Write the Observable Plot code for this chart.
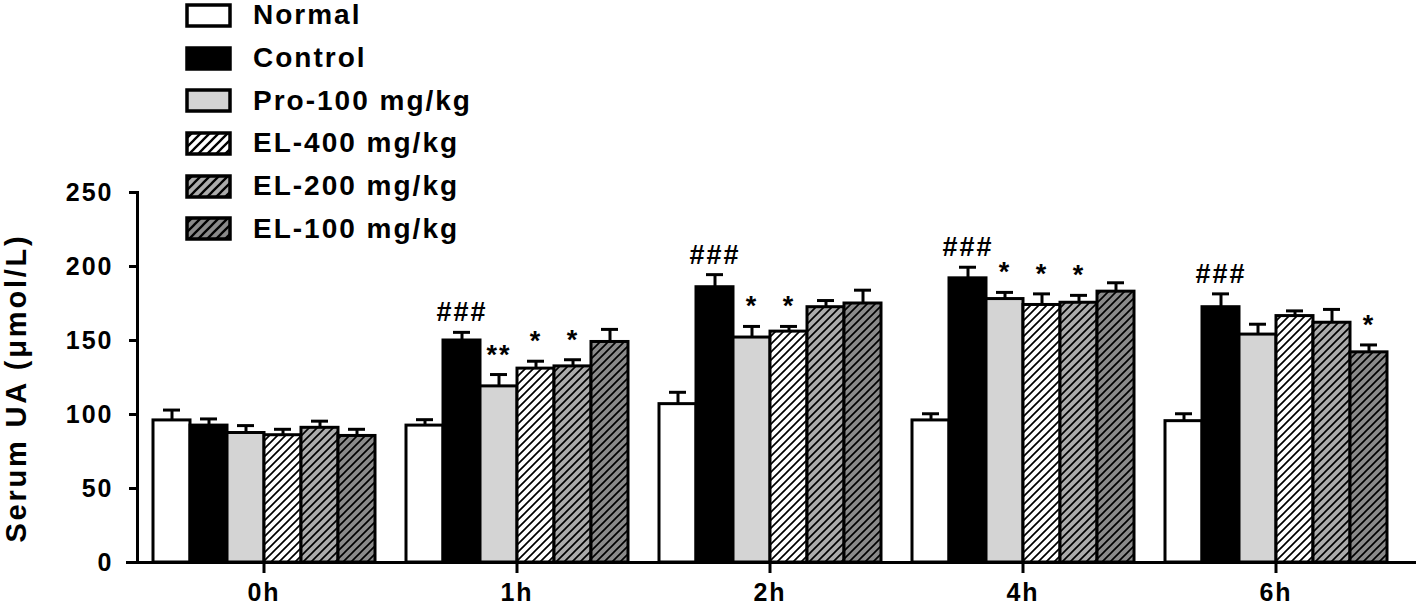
<!DOCTYPE html>
<html>
<head>
<meta charset="utf-8">
<script src="https://cdn.jsdelivr.net/npm/d3@7"></script>
<script src="https://cdn.jsdelivr.net/npm/@observablehq/plot@0.6"></script>
<style>
  body { margin: 0; background: #fff; }
  #wrap { position: relative; width: 1417px; height: 608px; overflow: hidden;
          font-family: "Liberation Sans", Arial, sans-serif; }
  #legend { position: absolute; left: 185px; top: -6px; }
  .row { display: flex; align-items: center; height: 42.7px; }
  .row svg { display: block; }
  .row span { margin-left: 21px; font-size: 28px; font-weight: bold; letter-spacing: 2px;
              color: #000; white-space: nowrap; line-height: 1; }
  #ylabel { position: absolute; left: 16px; top: 388px; transform: translate(-50%, -50%) rotate(-90deg);
            font-size: 29px; font-weight: bold; letter-spacing: 2.8px; white-space: nowrap; color: #000;
            line-height: 1; }
</style>
</head>
<body>
<svg width="0" height="0" style="position:absolute">
  <defs>
    <pattern id="h400" width="8" height="8" patternUnits="userSpaceOnUse">
      <rect width="8" height="8" fill="#ffffff"/>
      <path d="M-2,2L2,-2M0,8L8,0M6,10L10,6" stroke="#000" stroke-width="1.7"/>
    </pattern>
    <pattern id="h200" width="8" height="8" patternUnits="userSpaceOnUse">
      <rect width="8" height="8" fill="#ababab"/>
      <path d="M-2,2L2,-2M0,8L8,0M6,10L10,6" stroke="#000" stroke-width="1.7"/>
    </pattern>
    <pattern id="h100" width="8" height="8" patternUnits="userSpaceOnUse">
      <rect width="8" height="8" fill="#8a8a8a"/>
      <path d="M-2,2L2,-2M0,8L8,0M6,10L10,6" stroke="#000" stroke-width="1.7"/>
    </pattern>
    <pattern id="l400" width="9" height="9" patternUnits="userSpaceOnUse">
      <rect width="9" height="9" fill="#ffffff"/>
      <path d="M-2,2L2,-2M0,9L9,0M7,11L11,7" stroke="#000" stroke-width="2.3"/>
    </pattern>
    <pattern id="l200" width="9" height="9" patternUnits="userSpaceOnUse">
      <rect width="9" height="9" fill="#ababab"/>
      <path d="M-2,2L2,-2M0,9L9,0M7,11L11,7" stroke="#000" stroke-width="2.3"/>
    </pattern>
    <pattern id="l100" width="9" height="9" patternUnits="userSpaceOnUse">
      <rect width="9" height="9" fill="#8a8a8a"/>
      <path d="M-2,2L2,-2M0,9L9,0M7,11L11,7" stroke="#000" stroke-width="2.3"/>
    </pattern>
  </defs>
</svg>
<div id="wrap">
  <div id="chart"></div>
  <div id="legend"></div>
  <div id="ylabel"></div>
</div>
<script>
// ---- data ----
const groups = ["0h", "1h", "2h", "4h", "6h"];
const series = ["Normal", "Control", "Pro-100 mg/kg", "EL-400 mg/kg", "EL-200 mg/kg", "EL-100 mg/kg"];

const normalMean  = [96, 92.5, 107, 96, 95.5];
const normalErr   = [7, 4, 8, 4.5, 5];
const controlMean = [92.5, 150, 186, 192, 172.5];
const controlErr  = [4.5, 5.5, 8.5, 7.5, 9];
const pro100Mean  = [87.5, 119, 152, 178, 154];
const pro100Err   = [5, 8, 7.5, 4.5, 7];
const el400Mean   = [86, 131, 156, 174, 166.5];
const el400Err    = [4, 5, 3.5, 7.5, 3.5];
const el200Mean   = [91, 132.5, 172.5, 175.5, 162];
const el200Err    = [4.5, 4.5, 4.5, 5, 9];
const el100Mean   = [85.5, 149, 175, 183, 142];
const el100Err    = [4.5, 8.5, 9, 6, 5];

const yTicks = [0, 50, 100, 150, 200, 250];
const yLabel = "Serum UA (μmol/L)";

// significance marks: [group, series, label]
const sigMarks = [
  ["1h", "Control", "###"], ["1h", "Pro-100 mg/kg", "**"], ["1h", "EL-400 mg/kg", "*"], ["1h", "EL-200 mg/kg", "*"],
  ["2h", "Control", "###"], ["2h", "Pro-100 mg/kg", "*"], ["2h", "EL-400 mg/kg", "*"],
  ["4h", "Control", "###"], ["4h", "Pro-100 mg/kg", "*"], ["4h", "EL-400 mg/kg", "*"], ["4h", "EL-200 mg/kg", "*"],
  ["6h", "Control", "###"], ["6h", "EL-100 mg/kg", "*"]
];

const barFills    = ["#ffffff", "#000000", "#d4d4d4", "url(#h400)", "url(#h200)", "url(#h100)"];
const legendFills = ["#ffffff", "#000000", "#d4d4d4", "url(#l400)", "url(#l200)", "url(#l100)"];

// ---- table ----
const means = [normalMean, controlMean, pro100Mean, el400Mean, el200Mean, el100Mean];
const errs  = [normalErr, controlErr, pro100Err, el400Err, el200Err, el100Err];
const data = [];
groups.forEach((g, gi) => series.forEach((s, si) => {
  data.push({group: g, series: s, mean: means[si][gi], top: means[si][gi] + errs[si][gi]});
}));
const topOf = (g, s) => data.find(d => d.group === g && d.series === s).top;
const sigData = sigMarks.map(([g, s, t]) => ({group: g, series: s, label: t, top: topOf(g, s)}));
const baseData = groups.map(g => ({group: g, v: 0}));

const chart = Plot.plot({
  width: 1417,
  height: 608,
  marginLeft: 136,
  marginRight: 14,
  marginTop: 192,
  marginBottom: 46,
  style: {
    fontFamily: '"Liberation Sans", Arial, sans-serif',
    fontSize: "25px",
    fontWeight: "bold",
    letterSpacing: "2px",
    color: "#000",
    background: "transparent",
    overflow: "visible"
  },
  fx: {domain: groups, padding: 0, label: null},
  x: {domain: series, paddingInner: 0, paddingOuter: 0.33, axis: null},
  y: {domain: [0, 250], label: null},
  color: {domain: series, range: barFills},
  marks: [
    Plot.barY(data, {fx: "group", x: "series", y: "mean", fill: "series", stroke: "#000", strokeWidth: 3}),
    Plot.ruleX(data, {fx: "group", x: "series", y1: "mean", y2: "top", stroke: "#000", strokeWidth: 3}),
    Plot.tickY(data, {fx: "group", x: "series", y: "top", stroke: "#000", strokeWidth: 3, insetLeft: 10, insetRight: 10}),
    Plot.text(sigData, {fx: "group", x: "series", y: "top", text: "label", lineAnchor: "bottom", dy: -11, fontSize: 27, fill: "#000"}),
    Plot.ruleY(baseData, {fx: "group", y: "v", stroke: "#000", strokeWidth: 3, insetLeft: -11, insetRight: -14}),
    Plot.frame({anchor: "left", facetAnchor: "left", stroke: "#000", strokeWidth: 3}),
    Plot.axisY({anchor: "left", ticks: yTicks, tickFormat: d => String(d), tickSize: 8, tickPadding: 16,
                strokeWidth: 3, label: null, fontSize: 25}),
    Plot.axisFx({anchor: "bottom", tickSize: 11, tickPadding: 10, strokeWidth: 3, label: null, fontSize: 25})
  ]
});
document.getElementById("chart").appendChild(chart);
d3.select("#ylabel").text(yLabel);

// ---- legend ----
const legend = d3.select("#legend");
series.forEach((s, i) => {
  const row = legend.append("div").attr("class", "row");
  const sv = row.append("svg").attr("width", 47).attr("height", 25);
  sv.append("rect").attr("x", 2).attr("y", 2).attr("width", 43).attr("height", 21)
    .attr("fill", legendFills[i]).attr("stroke", "#000").attr("stroke-width", 3.5);
  row.append("span").text(s);
});
</script>
</body>
</html>
